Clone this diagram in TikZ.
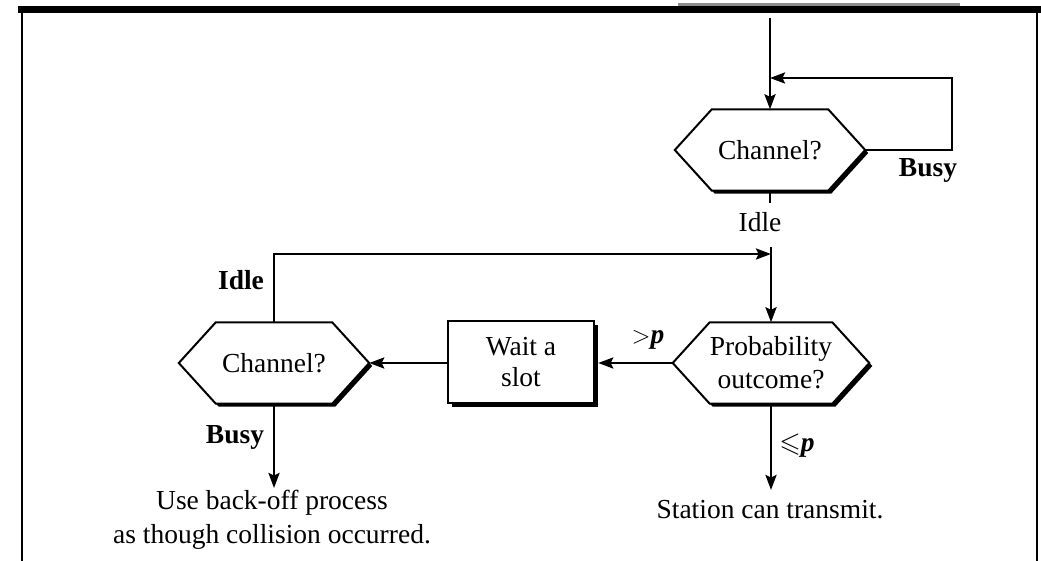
\documentclass[tikz,border=0pt]{standalone}
\usepackage{fontspec}
\setmainfont{Liberation Serif}
\usepackage{amssymb}
\usetikzlibrary{arrows.meta,calc,backgrounds}

\tikzset{
  flow/.style={line width=2.5pt, -{Stealth[length=15pt,width=11pt,inset=2.5pt]}},
  plain/.style={line width=2.5pt},
  hexcore/.style={minimum width=116pt, minimum height=81pt, inner sep=0pt,
    align=center, font=\fontsize{27.5}{33}\selectfont},
  boxnode/.style={minimum width=146pt, minimum height=82pt, inner sep=0pt,
    align=center, font=\fontsize{27.5}{31}\selectfont},
  lbl/.style={inner sep=0pt, font=\fontsize{27.5}{33}\selectfont\bfseries},
  txt/.style={inner sep=0pt, align=center, font=\fontsize{27.5}{34}\selectfont},
  outline/.style={line width=2pt, fill=white, line join=miter},
  shade/.style={fill=black},
}

% hexagon around a rectangular core node, with pointed ends 37pt wide
\newcommand\hexpath[1]{(#1.north west) -- (#1.north east) -- ([xshift=37pt]#1.east)
  -- (#1.south east) -- (#1.south west) -- ([xshift=-37pt]#1.west) -- cycle}

\begin{document}
\begin{tikzpicture}[x=1pt,y=-1pt]
\useasboundingbox (0,0) rectangle (1041,561);

% page frame
\draw[line width=6.5pt] (18,9.5) -- (1041,9.5);
\draw[line width=3pt, black!45] (678,4.5) -- (960,4.5);
\draw[line width=2pt] (22,9) -- (22,561);
\draw[line width=2pt] (1037,9) -- (1037,561);

% decision and process nodes
\node[hexcore] (ch1)  at (770,150) {Channel?};
\node[hexcore] (prob) at (771,363) {Probability\\outcome?};
\node[hexcore] (ch2)  at (274,363) {Channel?};
\node[boxnode] (wait) at (521,362) {Wait a\\slot};

\coordinate (ch1E)  at ([xshift=37pt]ch1.east);
\coordinate (probW) at ([xshift=-37pt]prob.west);
\coordinate (ch2E)  at ([xshift=37pt]ch2.east);

\begin{pgfonlayer}{background}
  \foreach \n in {ch1,prob,ch2} {
    \fill[shade, transform canvas={shift={(3,3)}}] \hexpath{\n};
    \draw[outline] \hexpath{\n};
  }
  \fill[shade, transform canvas={shift={(4,4)}}] (wait.north west) rectangle (wait.south east);
  \draw[outline] (wait.north west) rectangle (wait.south east);
\end{pgfonlayer}

% connectors
\coordinate (top)    at (770,18);
\coordinate (loopA)  at (952,78);
\coordinate (loopB)  at (top |- loopA);
\coordinate (mergeT) at (771,247);
\coordinate (merge)  at (771,254);
\coordinate (busyE)  at (274,488);
\coordinate (txE)    at (771,490);
\coordinate (waitR)  at ([xshift=4pt]wait.east |- probW);
\coordinate (waitL)  at (wait.west |- ch2E);

\draw[flow] (top) -- (ch1.north);
\draw[flow] (ch1E) -| (loopA) -- (loopB);
\draw[plain] (ch1.south) -- ++(0,12);
\draw[flow] (mergeT) -- (prob.north);
\draw[flow] (ch2.north) |- (merge);
\draw[flow] (probW) -- (waitR);
\draw[flow] (waitL) -- (ch2E);
\draw[flow] (ch2.south) -- (busyE);
\draw[flow] (prob.south) -- (txE);

% labels
\node[lbl] (busy1) at (928,170) {Busy};
\node[txt] (idle1) at (760,222) {Idle};
\node[lbl] (idle2) at (241,280) {Idle};
\node[lbl] (busy2) at (235,437) {Busy};
\node[txt] (gtp)   at (648,340) {$>$\textbf{\textit{p}}};
\node[txt] (lep)   at (797,446) {$\leqslant$\textbf{\textit{p}}};
\node[txt] (backoff) at (272,520) {Use back-off process\\as though collision occurred.};
\node[txt] (station) at (770,510) {Station can transmit.};
\end{tikzpicture}
\end{document}
